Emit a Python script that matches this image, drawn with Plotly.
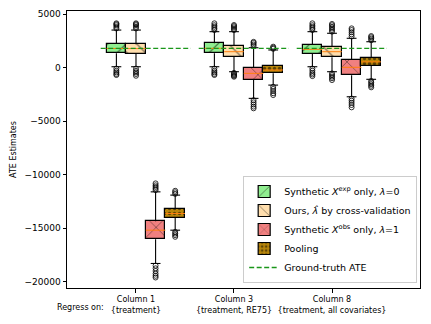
import plotly.graph_objects as go

# ---------------- data ----------------
column_labels = ["Column 1", "Column 3", "Column 8"]
covariate_sets = ["{treatment}", "{treatment, RE75}", "{treatment, all covariates}"]
column_positions = [1, 2, 3]

series_names = [
    "Synthetic <i>X</i><sup>exp</sup> only, <i>λ</i>=0",
    "Ours, <i>λ̂</i> by cross-validation",
    "Synthetic <i>X</i><sup>obs</sup> only, <i>λ</i>=1",
    "Pooling",
]

# Synthetic X^exp only
exp_q1 = [1330, 1330, 1260]
exp_median = [1780, 1790, 1700]
exp_q3 = [2200, 2260, 2100]
exp_whislo = [75, 75, 75]
exp_whishi = [3500, 3350, 3350]
exp_fliers = [[3650, 3800, 3950, 4050, 4130, -100, -300, -450, -600, -700],
              [3500, 3650, 3800, 3950, 4130, -100, -300, -450, -600, -700],
              [3500, 3650, 3800, 3950, 4130, -100, -300, -500, -650, -800]]

# Ours, lambda-hat by CV
cv_q1 = [1260, 1010, 950]
cv_median = [1770, 1480, 1480]
cv_q3 = [2170, 2010, 1940]
cv_whislo = [75, -390, -390]
cv_whishi = [3500, 3350, 3200]
cv_fliers = [[3650, 3800, 3950, 4050, 4130, -100, -300, -450, -600, -770],
             [3500, 3620, 3750, 3870, 3970, -500, -600, -700, -780, -860],
             [3350, 3500, 3650, 3800, 3950, 4070, -550, -700, -850, -1000, -1170]]

# Synthetic X^obs only
obs_q1 = [-16030, -1170, -730]
obs_median = [-15190, -545, 20]
obs_q3 = [-14350, -20, 700]
obs_whislo = [-18300, -2880, -2730]
obs_whishi = [-11610, 1850, 2730]
obs_fliers = [[-11450, -11300, -11150, -11000, -10820, -18500, -18750, -19000, -19250, -19450, -19610],
              [2000, 2150, 2300, 2400, -3050, -3250, -3450, -3650, -3810],
              [2900, 3100, 3300, 3500, 3660, -2900, -3100, -3300, -3500, -3720]]

# Pooling
pool_q1 = [-14040, -540, 140]
pool_median = [-13630, -230, 530]
pool_q3 = [-13225, 170, 915]
pool_whislo = [-15190, -1640, -1100]
pool_whishi = [-11915, 1640, 2410]
pool_fliers = [[-11800, -11650, -11510, -15350, -15500, -15650, -15810],
               [1750, 1850, 1950, -1800, -2000, -2200, -2400, -2570],
               [2550, 2700, 2830, 2940, -1250, -1400, -1550, -1700, -1850]]

ground_truth_ate = 1794

# ---------------- styling ----------------
offsets = [-0.2, 0.0, 0.2, 0.4]
box_width = 0.2
cap_width = 0.1
fill_colors = ["#90ee90", "#ffdead", "#f08080", "#b8860b"]
hatch = [dict(shape="/", size=13, solidity=0.1),
         dict(shape="\\", size=13, solidity=0.1),
         dict(shape="x", size=18, solidity=0.08),
         dict(shape=".", size=5, solidity=0.35)]

stats = [
    (exp_q1, exp_median, exp_q3, exp_whislo, exp_whishi, exp_fliers),
    (cv_q1, cv_median, cv_q3, cv_whislo, cv_whishi, cv_fliers),
    (obs_q1, obs_median, obs_q3, obs_whislo, obs_whishi, obs_fliers),
    (pool_q1, pool_median, pool_q3, pool_whislo, pool_whishi, pool_fliers),
]

fig = go.Figure()

whisk_x, whisk_y, med_x, med_y, fl_x, fl_y = [], [], [], [], [], []
for k, (q1, med, q3, lo, hi, fl) in enumerate(stats):
    xs = [p + offsets[k] for p in column_positions]
    fig.add_trace(go.Bar(
        x=xs, y=[b - a for a, b in zip(q1, q3)], base=q1, width=box_width,
        name=series_names[k],
        marker=dict(color=fill_colors[k], line=dict(color="black", width=1.2),
                    pattern=dict(fgcolor="black", fillmode="overlay", **hatch[k])),
        showlegend=True,
    ))
    for i, x in enumerate(xs):
        whisk_x += [x, x, None, x, x, None]
        whisk_y += [q3[i], hi[i], None, q1[i], lo[i], None]
        whisk_x += [x - cap_width / 2, x + cap_width / 2, None, x - cap_width / 2, x + cap_width / 2, None]
        whisk_y += [hi[i], hi[i], None, lo[i], lo[i], None]
        med_x += [x - box_width / 2, x + box_width / 2, None]
        med_y += [med[i], med[i], None]
        for v in fl[i]:
            fl_x.append(x)
            fl_y.append(v)

fig.add_trace(go.Scatter(x=whisk_x, y=whisk_y, mode="lines",
                         line=dict(color="black", width=1.1), showlegend=False, hoverinfo="skip"))
fig.add_trace(go.Scatter(x=med_x, y=med_y, mode="lines",
                         line=dict(color="#ff7f0e", width=1), showlegend=False, hoverinfo="skip"))
fig.add_trace(go.Scatter(x=fl_x, y=fl_y, mode="markers",
                         marker=dict(symbol="circle-open", size=5, color="black", line=dict(width=0.8)),
                         showlegend=False))

gt_x, gt_y = [], []
for p in column_positions:
    gt_x += [p - 0.36, p + 0.56, None]
    gt_y += [ground_truth_ate, ground_truth_ate, None]
fig.add_trace(go.Scatter(x=gt_x, y=gt_y, mode="lines", name="Ground-truth ATE",
                         line=dict(color="#1a961a", width=1.3, dash="5px,2.5px")))

fig.update_layout(
    width=431, height=324,
    margin=dict(l=67, r=11, t=11, b=36, autoexpand=False),
    plot_bgcolor="white", paper_bgcolor="white",
    font=dict(family="DejaVu Sans", size=9, color="black"),
    barmode="overlay", bargap=0,
    showlegend=True,
    legend=dict(x=0.992, y=0.018, xanchor="right", yanchor="bottom",
                bgcolor="rgba(255,255,255,0.9)", bordercolor="#cccccc", borderwidth=1,
                font=dict(size=9.5), tracegroupgap=0, itemwidth=30),
)
fig.update_xaxes(range=[0.296, 3.898], tickvals=column_positions,
                 ticktext=[f"{c}<br>{s}" for c, s in zip(column_labels, covariate_sets)],
                 showline=True, linecolor="black", linewidth=1, mirror=True, automargin=False,
                 ticks="outside", ticklen=3.5, tickcolor="black", showgrid=False, zeroline=False,
                 tickfont=dict(size=8))
fig.update_yaxes(range=[-20590, 5280], tickvals=[-20000, -15000, -10000, -5000, 0, 5000],
                 tickformat="d", automargin=False,
                 showline=True, linecolor="black", linewidth=1, mirror=True,
                 ticks="outside", ticklen=3.5, tickcolor="black", showgrid=False, zeroline=False,
                 title=dict(text="ATE Estimates", font=dict(size=8), standoff=6),
                 tickfont=dict(size=9))
fig.add_annotation(text="Regress on:", xref="x", yref="paper", x=0.694, y=-0.071,
                   xanchor="right", yanchor="middle", showarrow=False, font=dict(size=8))

fig.write_html("out.html", config={"displayModeBar": False},
               post_script="document.body.style.margin='0';")
